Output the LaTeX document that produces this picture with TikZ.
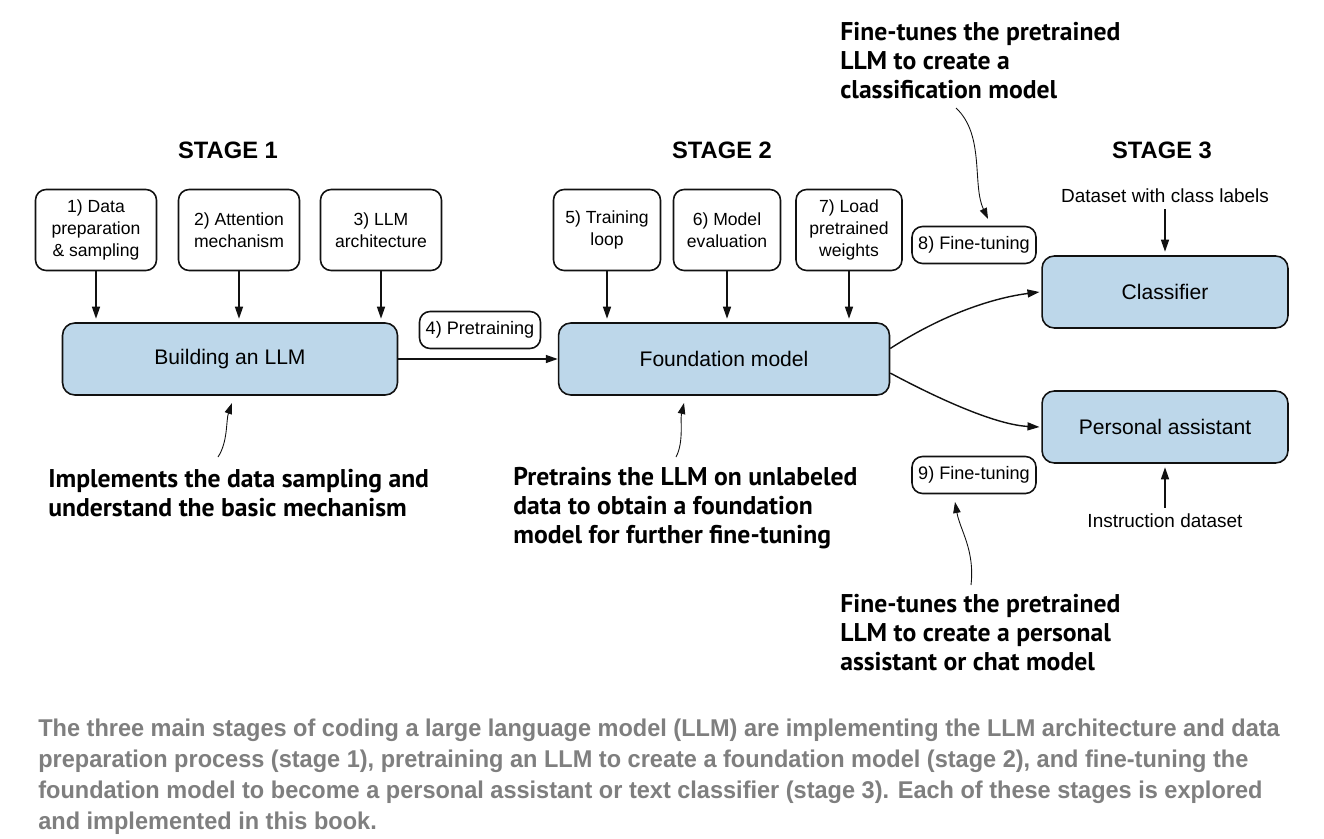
\documentclass[tikz,border=0pt]{standalone}
\usepackage{fontspec}
\setmainfont{Liberation Sans}
\newfontfamily\notefont{PT Sans}
\newfontfamily\capfont[FakeStretch=0.97]{Liberation Sans}
\usepackage{xcolor}
\definecolor{cBox}{HTML}{BDD7EA}
\definecolor{cLine}{HTML}{111111}
\definecolor{cCap}{HTML}{7F7F7F}
\usepackage{tikz}
\usetikzlibrary{positioning,arrows.meta}
\tikzset{
  node-step/.style={draw=cLine,line width=0.9pt,rounded corners=6pt,fill=white,
    minimum height=1.62cm,minimum width=2.42cm,align=center,inner sep=1pt,
    font=\fontsize{10}{12.5}\selectfont},
  node-main/.style={draw=cLine,line width=0.9pt,rounded corners=7pt,fill=cBox,
    minimum height=1.44cm,minimum width=6.7cm,align=center,
    font=\fontsize{12}{14}\selectfont},
  node-out/.style={node-main,minimum width=4.92cm},
  node-tag/.style={draw=cLine,line width=0.9pt,rounded corners=6pt,fill=white,
    minimum height=0.74cm,minimum width=2.42cm,inner sep=1pt,
    font=\fontsize{10.3}{12.5}\selectfont},
  stage-title/.style={font=\fontsize{13.5}{16}\selectfont\bfseries},
  data-label/.style={font=\fontsize{10.8}{12}\selectfont},
  note/.style={anchor=north west,inner sep=0pt,align=left,
    font=\notefont\fontsize{14.6}{16.6}\selectfont\bfseries},
  arrow/.style={-{Triangle[length=2.4mm,width=1.6mm]},line width=0.8pt,draw=cLine},
  arrow-note/.style={-{Triangle[length=2.2mm,width=1.5mm]},line width=0.5pt,draw=cLine},
}

\begin{document}
\begin{tikzpicture}[x=0.02cm,y=-0.02cm]
  \useasboundingbox[fill=white] (0,0) rectangle (1324,838);
  % stage titles
  \node[stage-title] (s1) at (228,150) {STAGE 1};
  \node[stage-title] (s2) at (722,150) {STAGE 2};
  \node[stage-title] (s3) at (1162,150) {STAGE 3};
  % stage 1
  \node[node-step] (data) at (96,230)  {1) Data\\preparation\\\& sampling};
  \node[node-step] (attn) at (239,230) {2) Attention\\mechanism};
  \node[node-step] (arch) at (381,230) {3) LLM\\architecture};
  \node[node-main] (build) at (230,359) {Building an LLM};
  \draw[arrow] (data.south) -- ([yshift=2pt]data.south |- build.north);
  \draw[arrow] (attn.south) -- ([yshift=2pt]attn.south |- build.north);
  \draw[arrow] (arch.south) -- ([yshift=2pt]arch.south |- build.north);
  % stage 2
  \node[node-tag] (pre) at (480,330) {4) Pretraining};
  \node[node-main,minimum width=6.62cm] (found) at (724,359) {Foundation model};
  \node[node-step,minimum width=2.14cm] (loop) at (607,230) {5) Training\\loop};
  \node[node-step,minimum width=2.14cm] (eval) at (727,230) {6) Model\\evaluation};
  \node[node-step,minimum width=2.12cm] (load) at (849,230) {7) Load\\pretrained\\weights};
  \draw[arrow] (build.east) -- (found.west);
  \draw[arrow] (loop.south) -- ([yshift=2pt]loop.south |- found.north);
  \draw[arrow] (eval.south) -- ([yshift=2pt]eval.south |- found.north);
  \draw[arrow] (load.south) -- ([yshift=2pt]load.south |- found.north);
  % stage 3
  \node[node-out] (cls) at (1165,292) {Classifier};
  \node[node-out] (asst) at (1165,427) {Personal assistant};
  \node[node-tag,minimum width=2.48cm] (ft8) at (974,245) {8) Fine-tuning};
  \node[node-tag,minimum width=2.48cm] (ft9) at (974,475) {9) Fine-tuning};
  \node[data-label] (lbl) at (1165,196) {Dataset with class labels};
  \node[data-label] (ins) at (1165,521) {Instruction dataset};
  \draw[arrow] (lbl.south) -- ([yshift=2pt]cls.north);
  \draw[arrow] (ins.north) -- ([yshift=-2pt]asst.south);
  \draw[arrow] ([yshift=6pt]found.east) .. controls (950,310) and (1000,297) .. ([xshift=-1pt]cls.west);
  \draw[arrow] ([yshift=-8pt]found.east) .. controls (950,405) and (1000,425) .. ([xshift=-1pt]asst.west);
  % notes
  \node[note] (n1) at (48,469) {Implements the data sampling and\\understand the basic mechanism};
  \node[note] (n2) at (513,467) {Pretrains the LLM on unlabeled\\data to obtain a foundation\\model for further fine-tuning};
  \node[note] (n3) at (840,22) {Fine-tunes the pretrained\\LLM to create a\\classification model};
  \node[note] (n4) at (840,594) {Fine-tunes the pretrained\\LLM to create a personal\\assistant or chat model};
  \coordinate (n1-tip) at (232,403);
  \coordinate (n2-tip) at (684,403);
  \coordinate (n3-tip) at (988,219);
  \coordinate (n4-tip) at (955,502);
  \draw[arrow-note] (218,457) .. controls (228,442) and (226,420) .. (n1-tip);
  \draw[arrow-note] (676,457) .. controls (684,442) and (680,420) .. (n2-tip);
  \draw[arrow-note] (956,108) .. controls (985,135) and (972,185) .. (n3-tip);
  \draw[arrow-note] (971,585) .. controls (975,550) and (960,530) .. (n4-tip);
  % caption
  \node[anchor=north west,inner sep=0pt,align=left,text=cCap,
    font=\capfont\fontsize{13.8}{17.6}\selectfont\bfseries] (cap) at (38,719)
    {The three main stages of coding a large language model (LLM) are implementing the LLM architecture and data\\
     preparation process (stage 1), pretraining an LLM to create a foundation model (stage 2), and fine-tuning the\\
     foundation model to become a personal assistant or text classifier (stage 3). Each of these stages is explored\\
     and implemented in this book.};
\end{tikzpicture}
\end{document}
